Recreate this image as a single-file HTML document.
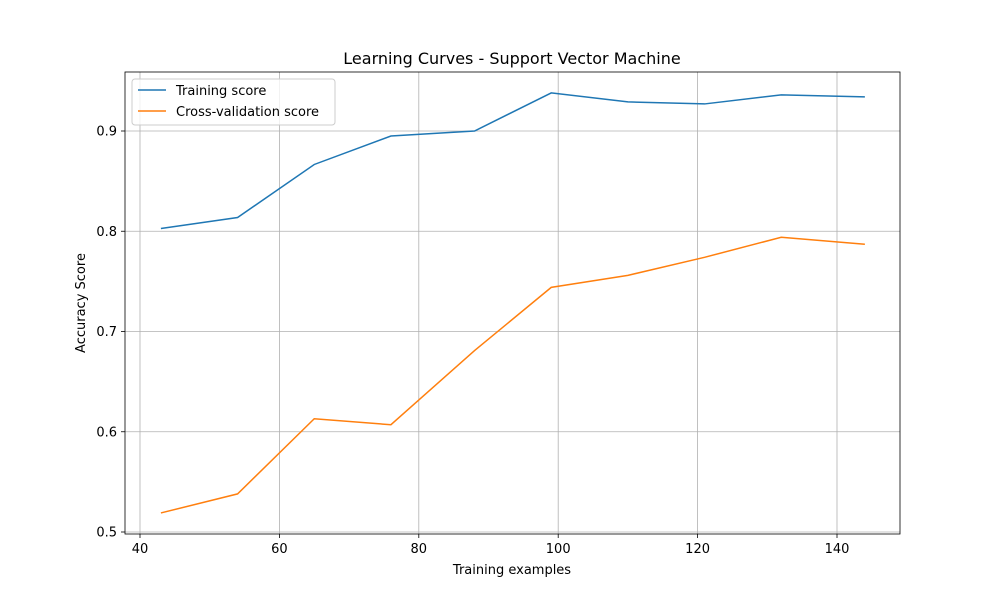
<!DOCTYPE html>
<html><head><meta charset="utf-8"><style>
body{margin:0;background:#fff;font-family:"Liberation Sans","DejaVu Sans",sans-serif;}
svg text{font-family:"DejaVu Sans","Liberation Sans",sans-serif;}
</style></head><body>
<svg id="chart" width="1000" height="600" viewBox="0 0 1000 600">
<rect width="1000" height="600" fill="#fff"/>
<g id="grid"></g>
<g id="series"></g>
<rect x="125" y="72" width="775" height="462" fill="none" stroke="#000" stroke-width="0.8"/>
<g id="ticks"></g>
<text x="512" y="64" text-anchor="middle" font-size="16">Learning Curves - Support Vector Machine</text>
<text x="512" y="574" text-anchor="middle" font-size="13">Training examples</text>
<text transform="translate(85,303) rotate(-90)" text-anchor="middle" font-size="13">Accuracy Score</text>
<g>
<rect x="132" y="79" width="203" height="46" rx="3" fill="#fff" fill-opacity="0.8" stroke="#ccc"/>
<g><line x1="138" y1="90" x2="166" y2="90" stroke="#1f77b4" stroke-width="1.5"/><text x="176" y="95" font-size="13">Training score</text></g>
<g><line x1="138" y1="111" x2="166" y2="111" stroke="#ff7f0e" stroke-width="1.5"/><text x="176" y="116" font-size="13">Cross-validation score</text></g>
</g>
</svg>
<script>
const trainSizes=[43,54,65,76,88,99,110,121,132,144];
const trainScores=[0.8027,0.8137,0.8666,0.895,0.900,0.938,0.929,0.927,0.936,0.934];
const cvScores=[0.519,0.538,0.613,0.607,0.681,0.744,0.756,0.774,0.794,0.787];
const xTicks=[40,60,80,100,120,140];
const yTicks=[0.5,0.6,0.7,0.8,0.9];
const NS='http://www.w3.org/2000/svg';
const xs=v=>140+(v-40)*6.97;
const ys=v=>532-(v-0.5)*1002.5;
const grid=document.getElementById('grid'),ticks=document.getElementById('ticks'),ser=document.getElementById('series');
function mk(tag,attrs,parent){const e=document.createElementNS(NS,tag);for(const k in attrs)e.setAttribute(k,attrs[k]);parent.appendChild(e);return e;}
xTicks.forEach(t=>{const x=xs(t);
const g=mk('line',{x1:x,x2:x,y1:72,y2:534,stroke:'#b0b0b0','stroke-width':0.8},grid);


mk('line',{x1:x,x2:x,y1:534,y2:538,stroke:'#000','stroke-width':0.8},ticks);
const l=mk('text',{x:x,y:553,'text-anchor':'middle','font-size':13},ticks);l.textContent=t;

});
yTicks.forEach(t=>{const y=ys(t);
const g=mk('line',{x1:125,x2:900,y1:y,y2:y,stroke:'#b0b0b0','stroke-width':0.8},grid);


mk('line',{x1:121,x2:125,y1:y,y2:y,stroke:'#000','stroke-width':0.8},ticks);
const l=mk('text',{x:117,y:y+4.5,'text-anchor':'end','font-size':13},ticks);l.textContent=t.toFixed(1);

});
function line(vals,color,name){const p=mk('polyline',{points:trainSizes.map((s,i)=>xs(s)+','+ys(vals[i])).join(' '),fill:'none',stroke:color,'stroke-width':1.5},ser);

}
line(trainScores,'#1f77b4','training-score-line');
line(cvScores,'#ff7f0e','cv-score-line');
</script>
</body></html>
